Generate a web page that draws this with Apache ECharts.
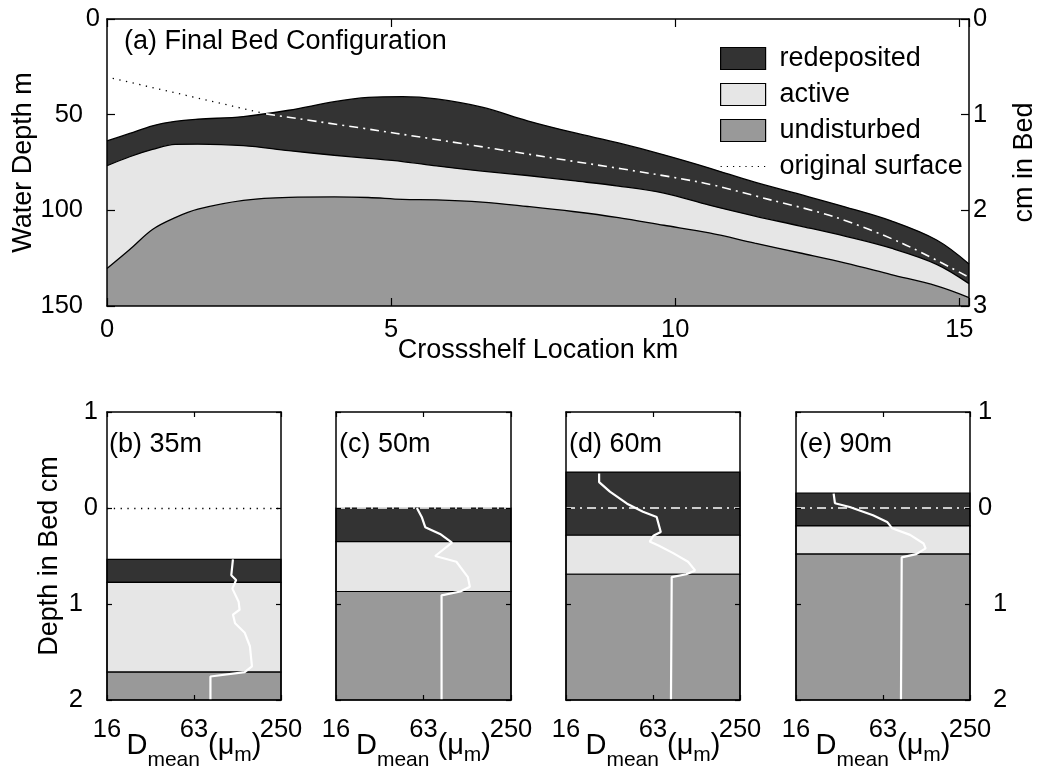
<!DOCTYPE html>
<html>
<head>
<meta charset="utf-8">
<script src="https://cdn.jsdelivr.net/npm/echarts@6/dist/echarts.min.js"></script>
<style>
html, body { margin: 0; padding: 0; background: #fff; }
#chart { width: 1041px; height: 769px; }
</style>
</head>
<body>
<div id="chart"></div>
<script>
// ---- (a) final bed configuration along the transect ----
// cross-shelf positions (km) where the layer boundaries are given
const kmBed = [0, 0.4, 0.8, 1.2, 1.6, 2.4, 3.2, 4.0, 4.6, 5.2, 5.8, 6.6, 7.4, 8.2, 9.0, 9.8, 10.6, 11.4, 12.2, 13.0, 13.8, 14.6, 15.17];
// top of the redeposited layer (bed surface), water depth m
const depthSurface = [63.7, 59.8, 55.8, 53.5, 52.4, 51.0, 47.7, 43.2, 41.0, 40.6, 41.8, 46.1, 53.2, 59.3, 64.8, 71.0, 77.9, 85.3, 91.7, 98.3, 105.5, 115.5, 128.0];
// top of the active layer
const depthActiveTop = [76.7, 72.0, 68.2, 65.5, 65.4, 66.2, 68.8, 71.2, 72.8, 74.5, 76.8, 79.5, 81.8, 84.5, 87.3, 91.0, 97.3, 103.0, 108.2, 113.6, 119.8, 128.2, 138.3];
// top of the undisturbed bed
const depthUndisturbedTop = [130.4, 120.5, 110.0, 103.8, 99.4, 94.8, 93.2, 93.0, 93.3, 94.3, 94.5, 95.7, 98.0, 100.6, 103.8, 107.8, 111.8, 117.1, 122.3, 127.6, 133.6, 139.5, 145.6];
// original surface: exposed part (above the final bed) and buried part
const kmOrigExposed = [0.1, 2.8];
const depthOrigExposed = [31.0, 49.6];
const kmOrigBuried = [2.8, 5.1, 7.7, 10.4, 11.7, 12.8, 14.0, 15.17];
const depthOrigBuried = [49.6, 59.8, 72.0, 85.1, 94.7, 103.4, 117.3, 135.0];

// ---- (b)-(e) bed columns at four sites ----
const siteTitles = ['(b) 35m', '(c) 50m', '(d) 60m', '(e) 90m'];
// layer extents, depth in bed (cm, negative = above original surface)
const layerRedeposited = [[0.535, 0.775], [0.0, 0.35], [-0.374, 0.284], [-0.156, 0.187]];
const layerActive = [[0.775, 1.71], [0.35, 0.87], [0.284, 0.69], [0.187, 0.48]];
const layerUndisturbed = [[1.71, 2.0], [0.87, 2.0], [0.69, 2.0], [0.48, 2.0]];
// mean grain size profiles: depth in bed (cm) and D_mean (um)
const profileDepth = [
  [0.535, 0.70, 0.75, 0.84, 0.976, 1.06, 1.11, 1.20, 1.30, 1.44, 1.65, 1.71, 1.755, 2.0],
  [0.0, 0.093, 0.20, 0.27, 0.36, 0.50, 0.56, 0.72, 0.82, 0.87, 0.91, 2.0],
  [-0.36, -0.27, -0.17, -0.045, 0.04, 0.093, 0.25, 0.29, 0.35, 0.39, 0.47, 0.56, 0.65, 0.69, 0.72, 2.0],
  [-0.15, -0.05, -0.01, 0.076, 0.145, 0.21, 0.28, 0.37, 0.42, 0.48, 0.515, 2.0]
];
const profileDmean = [
  [117, 114, 123, 116, 128, 130, 117, 121, 141, 153, 158, 141, 82, 82],
  [57, 61.5, 65, 82, 99, 76, 106, 127, 131, 113, 84, 84],
  [27, 27, 32, 42, 54, 67, 71.5, 63.6, 60, 69, 87, 110, 123, 107, 85, 84],
  [29, 29.6, 37.4, 54, 67.5, 73, 97, 120, 124, 107, 85, 84]
];
// grain size axis: logarithmic between 16 and 250 um, labelled at 16, 63, 250
const dMin = 16, dMax = 250;

const FONT = "'Liberation Sans', Arial, Helvetica, sans-serif";
const C_RED = '#333333', C_ACT = '#e6e6e6', C_UND = '#999999';
const AXIS_LINE = { show: true, onZero: false, lineStyle: { color: '#000', width: 1.5 } };
const TICK_FS = 25.5, NAME_FS = 27;

// position on the grain-size axis: 0 at 16 um, 2 at 250 um (log spacing)
const logPos = d => 2 * Math.log(d / dMin) / Math.log(dMax / dMin);
const logLabel = u => String(Math.round(dMin * Math.pow(dMax / dMin, u / 2)));
const zip = (a, b) => a.map((v, i) => [v, b[i]]);

// fixed plot rectangles; labels and names are allowed to sit outside them
const grids = [{ left: 107, top: 19, width: 862, height: 287, outerBoundsMode: 'none', containLabel: false }];
const panelLeft = [107, 336, 566, 796];
const panelWidth = [174, 175, 174, 174];
panelLeft.forEach((l, i) => grids.push({ left: l, top: 412, width: panelWidth[i], height: 288, outerBoundsMode: 'none', containLabel: false }));

const xAxes = [
  {
    gridIndex: 0, type: 'value', position: 'bottom', min: 0, max: 15.17, interval: 5, z: 10,
    axisLine: AXIS_LINE, splitLine: { show: false },
    axisTick: { inside: true, length: 8, lineStyle: { color: '#000', width: 1.2 } },
    axisLabel: { color: '#000', fontSize: TICK_FS, margin: 11, formatter: v => (v % 5 === 0 ? String(v) : '') },
    name: 'Crossshelf Location km', nameLocation: 'middle', nameGap: 31, nameMoveOverlap: false,
    nameTextStyle: { color: '#000', fontSize: NAME_FS }
  },
  {
    gridIndex: 0, type: 'value', position: 'top', min: 0, max: 15.17, interval: 5, z: 10,
    axisLine: AXIS_LINE, splitLine: { show: false },
    axisTick: { inside: true, length: 8, lineStyle: { color: '#000', width: 1.2 } },
    axisLabel: { show: false }
  }
];
const yAxes = [
  {
    gridIndex: 0, type: 'value', position: 'left', min: 0, max: 150, interval: 50, inverse: true, z: 10,
    axisLine: AXIS_LINE, splitLine: { show: false },
    axisTick: { inside: true, length: 8, lineStyle: { color: '#000', width: 1.2 } },
    axisLabel: {
      color: '#000', fontSize: TICK_FS, margin: 7,
      formatter: v => (v === 0 ? '{n|0}' : '{f|' + v + '}'),
      rich: { n: { fontSize: TICK_FS, color: '#000' }, f: { fontSize: TICK_FS, color: '#000', padding: [0, 17, 0, 0] } }
    },
    name: 'Water Depth m', nameLocation: 'middle', nameGap: 70, nameMoveOverlap: false,
    nameTextStyle: { color: '#000', fontSize: NAME_FS }
  },
  {
    gridIndex: 0, type: 'value', position: 'right', min: 0, max: 3, interval: 1, inverse: true, z: 10,
    axisLine: AXIS_LINE, splitLine: { show: false },
    axisTick: { inside: true, length: 8, lineStyle: { color: '#000', width: 1.2 } },
    axisLabel: { color: '#000', fontSize: TICK_FS, margin: 4 },
    name: 'cm in Bed', nameLocation: 'middle', nameGap: 42,
    nameTextStyle: { color: '#000', fontSize: NAME_FS }
  }
];

// D_mean (μ_m) with lowered subscripts
const dName = '{a|D}{b|mean}{g|}{a|(μ}{c|m}{a|)}';
const dRich = {
  a: { fontSize: 29, color: '#000', verticalAlign: 'top' },
  b: { fontSize: 21, color: '#000', verticalAlign: 'top', padding: [19, 0, 0, 0] },
  c: { fontSize: 21, color: '#000', verticalAlign: 'top', padding: [14, 0, 0, 0] },
  g: { width: 8, height: 10 }
};

const series = [
  {
    type: 'line', name: 'redeposited', xAxisIndex: 0, yAxisIndex: 0, data: zip(kmBed, depthSurface),
    symbol: 'none', smooth: 0.35, silent: true,
    lineStyle: { color: '#000', width: 1.3 }, itemStyle: { color: C_RED },
    areaStyle: { color: C_RED, opacity: 1, origin: 'end' }
  },
  {
    type: 'line', name: 'active', xAxisIndex: 0, yAxisIndex: 0, data: zip(kmBed, depthActiveTop),
    symbol: 'none', smooth: 0.35, silent: true,
    lineStyle: { color: '#000', width: 1.3 }, itemStyle: { color: C_ACT },
    areaStyle: { color: C_ACT, opacity: 1, origin: 'end' }
  },
  {
    type: 'line', name: 'undisturbed', xAxisIndex: 0, yAxisIndex: 0, data: zip(kmBed, depthUndisturbedTop),
    symbol: 'none', smooth: 0.35, silent: true,
    lineStyle: { color: '#000', width: 1.3 }, itemStyle: { color: C_UND },
    areaStyle: { color: C_UND, opacity: 1, origin: 'end' }
  },
  {
    type: 'line', name: 'original surface', xAxisIndex: 0, yAxisIndex: 0, data: zip(kmOrigExposed, depthOrigExposed),
    symbol: 'none', silent: true, z: 4,
    lineStyle: { color: '#000', width: 1.3, type: [1.3, 5.5] }, itemStyle: { color: '#000' }
  },
  {
    type: 'line', name: 'original surface (buried)', xAxisIndex: 0, yAxisIndex: 0, data: zip(kmOrigBuried, depthOrigBuried),
    symbol: 'none', smooth: 0.3, silent: true, z: 4,
    lineStyle: { color: '#fff', width: 1.6, type: [9, 5, 2, 5] }
  }
];

siteTitles.forEach((t, i) => {
  const xi = 2 + 2 * i, yi = 2 + 2 * i;
  const isFirst = i === 0, isLast = i === siteTitles.length - 1;
  const tick = { inside: true, length: 5, lineStyle: { color: '#000', width: 1.2 } };
  xAxes.push({
    gridIndex: i + 1, type: 'value', position: 'bottom', min: 0, max: 2, interval: 1, z: 10,
    axisLine: AXIS_LINE, splitLine: { show: false }, axisTick: tick,
    axisLabel: { color: '#000', fontSize: TICK_FS, margin: 17, formatter: logLabel },
    name: dName, nameLocation: 'middle', nameGap: 31, nameMoveOverlap: false,
    nameTextStyle: { rich: dRich }
  });
  xAxes.push({
    gridIndex: i + 1, type: 'value', position: 'top', min: 0, max: 2, interval: 1, z: 10,
    axisLine: AXIS_LINE, splitLine: { show: false }, axisTick: tick, axisLabel: { show: false }
  });
  yAxes.push({
    gridIndex: i + 1, type: 'value', position: 'left', min: -1, max: 2, interval: 1, inverse: true, z: 10,
    axisLine: AXIS_LINE, splitLine: { show: false }, axisTick: tick,
    axisLabel: {
      show: isFirst, color: '#000', fontSize: TICK_FS, margin: 9,
      formatter: v => (v > 0 ? '{f|' + v + '}' : '{n|' + Math.abs(v) + '}'),
      rich: { n: { fontSize: TICK_FS, color: '#000' }, f: { fontSize: TICK_FS, color: '#000', padding: [0, 15, 0, 0] } }
    },
    name: isFirst ? 'Depth in Bed cm' : '', nameLocation: 'middle', nameGap: 44,
    nameTextStyle: { color: '#000', fontSize: NAME_FS }
  });
  yAxes.push({
    gridIndex: i + 1, type: 'value', position: 'right', min: -1, max: 2, interval: 1, inverse: true, z: 10,
    axisLine: AXIS_LINE, splitLine: { show: false }, axisTick: tick,
    axisLabel: {
      show: isLast, color: '#000', fontSize: TICK_FS, margin: 8,
      formatter: v => (v > 0 ? '{f|' + v + '}' : '{n|' + Math.abs(v) + '}'),
      rich: { n: { fontSize: TICK_FS, color: '#000' }, f: { fontSize: TICK_FS, color: '#000', padding: [0, 0, 0, 15] } }
    }
  });

  // layer bands
  series.push({
    type: 'line', name: 'layers ' + t, xAxisIndex: xi, yAxisIndex: yi, data: [], silent: true, z: 1,
    markArea: {
      silent: true,
      itemStyle: { borderColor: '#000', borderWidth: 1.2 },
      data: [
        [{ yAxis: layerRedeposited[i][0], itemStyle: { color: C_RED } }, { yAxis: layerRedeposited[i][1] }],
        [{ yAxis: layerActive[i][0], itemStyle: { color: C_ACT } }, { yAxis: layerActive[i][1] }],
        [{ yAxis: layerUndisturbed[i][0], itemStyle: { color: C_UND } }, { yAxis: layerUndisturbed[i][1] }]
      ]
    }
  });
  // original surface level and grain size profile
  series.push({
    type: 'line', name: 'Dmean ' + t, xAxisIndex: xi, yAxisIndex: yi, silent: true, z: 3,
    data: zip(profileDmean[i].map(logPos), profileDepth[i]),
    symbol: 'none', lineStyle: { color: '#fff', width: 2.2 },
    markLine: {
      silent: true, symbol: 'none', label: { show: false },
      lineStyle: isFirst ? { color: '#000', width: 1.3, type: [1.3, 5.5] } : { color: '#fff', width: 1.6, type: [9, 5, 2, 5] },
      data: [{ yAxis: 0 }]
    }
  });
});

const titleStyle = { color: '#000', fontSize: 27, fontWeight: 'normal', fontFamily: FONT };
const titles = [{ text: '(a) Final Bed Configuration', left: 124, top: 28, padding: 0, textStyle: titleStyle }];
const titleLeft = [109, 339, 569, 799];
siteTitles.forEach((t, i) => titles.push({ text: t, left: titleLeft[i], top: 431, padding: 0, textStyle: titleStyle }));

const option = {
  animation: false,
  backgroundColor: '#fff',
  textStyle: { fontFamily: FONT, color: '#000' },
  title: titles,
  grid: grids,
  xAxis: xAxes,
  yAxis: yAxes,
  legend: {
    left: 720, top: 45, orient: 'vertical', padding: 0, selectedMode: false,
    itemWidth: 45, itemHeight: 22, itemGap: 9,
    textStyle: { color: '#000', fontSize: 27, lineHeight: 22, fontFamily: FONT, padding: [0, 0, 0, 9] },
    data: [
      { name: 'redeposited', icon: 'rect', itemStyle: { color: C_RED, borderColor: '#000', borderWidth: 1.2 } },
      { name: 'active', icon: 'rect', itemStyle: { color: C_ACT, borderColor: '#000', borderWidth: 1.2 } },
      { name: 'undisturbed', icon: 'rect', itemStyle: { color: C_UND, borderColor: '#000', borderWidth: 1.2 } },
      { name: 'original surface', itemStyle: { opacity: 0 }, lineStyle: { color: '#000', width: 1.2, type: [1.2, 5] } }
    ]
  },
  series: series
};

const chart = echarts.init(document.getElementById('chart'), null, { renderer: 'canvas' });
chart.setOption(option);
</script>
</body>
</html>
